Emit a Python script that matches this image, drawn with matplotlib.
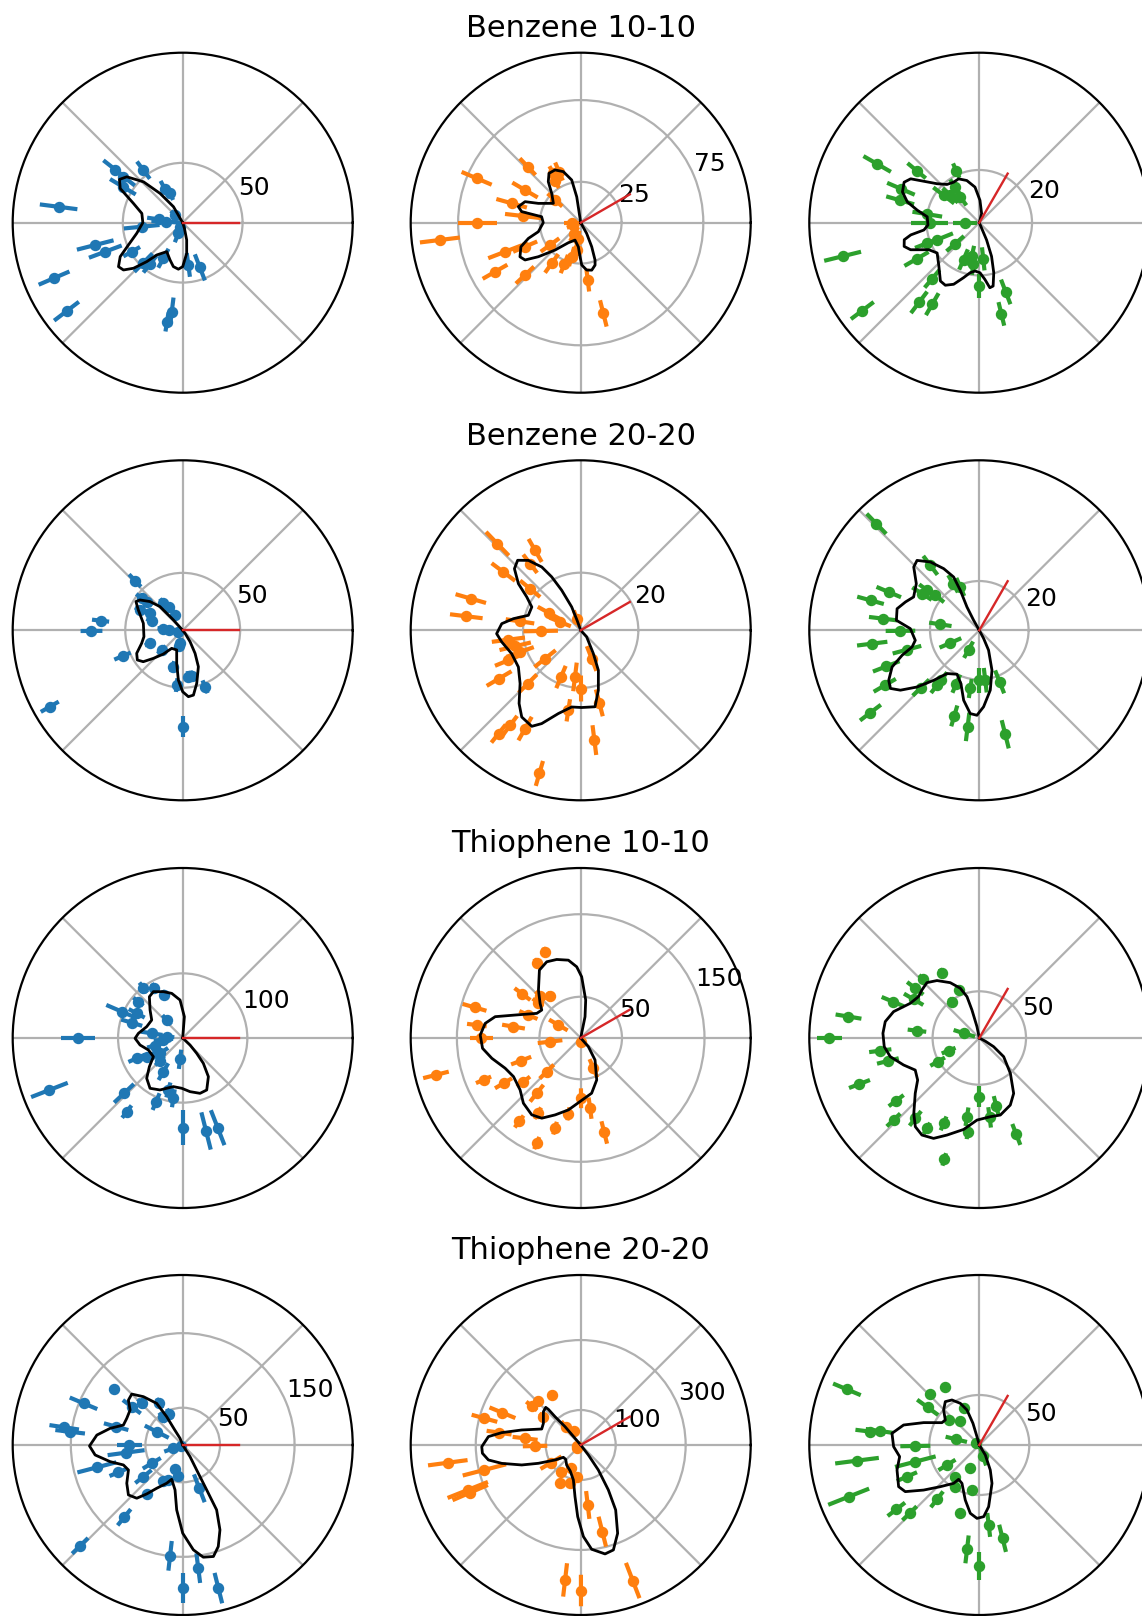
import numpy as np
import matplotlib
matplotlib.use("Agg")
import matplotlib.pyplot as plt

# row titles and colours of the three columns
titles = ["Benzene 10-10", "Benzene 20-20", "Thiophene 10-10", "Thiophene 20-20"]
colors = ["#1f77b4", "#ff7f0e", "#2ca02c"]
ref_angle = [0, 30, 60]          # red reference direction per column (deg)

# radial limits / ticks per panel [row][col]
r_max = [[142, 104, 64.5], [148, 59, 69], [263, 206, 182], [228, 486, 170]]
r_ticks = [[[50], [25, 75], [20]],
           [[50], [20], [20]],
           [[100], [50, 150], [50]],
           [[50, 150], [100, 300], [50]]]

# measured points: (angle deg, value, error)
pts_b10_a = [(172.7, 104.5, 15.8), (194.3, 75.4, 15.8), (200.5, 69, 14.6), (203.3, 117, 14),
             (217.3, 122, 13), (263, 75, 12), (261, 84, 8), (277.6, 35.6, 10), (291, 40, 11.7),
             (141.8, 71.8, 12.5), (142.2, 62.6, 12), (149, 58.3, 12.5), (126.8, 54.8, 9),
             (117.9, 31.5, 8), (113, 26.6, 6), (176.6, 14.2, 12), (172, 20, 10), (185.6, 34.4, 15),
             (209.6, 49, 8), (225.5, 46.8, 10.8), (231.7, 44, 9), (241.5, 33.8, 9),
             (248, 9.6, 8), (235, 4, 5), (135, 9, 5)]
pts_b10_b = [(187, 86.8, 12.3), (180, 63.3, 12), (156.9, 69.2, 10), (133.4, 47.2, 7),
             (149.6, 39.5, 9), (164.3, 43.9, 9.7), (173.4, 35.3, 11.3), (201, 49.6, 11),
             (209.8, 60.4, 8.7), (203.3, 37, 8), (223.2, 46.8, 7.6), (216, 23.2, 7),
             (234.5, 30.6, 7), (248.4, 27.2, 6), (255, 21.5, 6), (261.7, 16.9, 6), (277, 35.4, 7),
             (284, 57.2, 8.3), (119, 34.5, 5), (113, 34, 6), (122, 30, 5), (138.6, 21, 6),
             (200, 5, 4), (240, 8, 5), (260, 10, 5), (180, 5.5, 5)]
pts_b10_c = [(150.1, 44.7, 6), (140.3, 30.9, 4.5), (156.6, 32.4, 5.7), (164.2, 31.2, 5.5),
             (170.7, 20, 5.7), (180, 18.75, 7), (180, 5.4, 4.4), (193.8, 53.4, 7.2),
             (216.9, 55.5, 5.4), (202, 17.3, 6.5), (201.4, 21.2, 5), (210, 27.5, 5.3),
             (221, 12.1, 4.4), (229.9, 27.8, 4.4), (232.9, 37.9, 5.1), (240, 35.7, 4.8),
             (246.8, 15.2, 4.2), (257.3, 13, 4), (261.9, 16, 4), (270, 24, 4.7), (276.2, 13.8, 4.4),
             (290.9, 28.1, 5), (283.6, 35.6, 4.6), (113.9, 21.6, 3), (124, 16.3, 3.5),
             (142.5, 17, 5), (136.7, 15.1, 4), (126.6, 12.2, 4)]
pts_b20_a = [(209.9, 133.5, 9), (270, 84, 9), (133.8, 60, 7.5), (173.3, 72, 7.5), (180.4, 79.4, 9.5),
             (203.2, 57, 7.8), (142, 45.4, 6), (141.5, 40, 6), (154.5, 41.2, 5), (152.5, 32, 5),
             (162.7, 28.3, 5), (125.6, 29, 5), (121, 24, 5), (116.6, 15, 5), (180, 12, 5),
             (175, 17, 5), (201.7, 30.6, 5), (223, 25, 5), (258, 11.6, 5), (255, 14, 5),
             (254.6, 32.9, 5), (263.7, 48, 6), (277, 40.7, 5), (281, 40.7, 5), (291.6, 52.9, 6),
             (200, 4, 4)]
pts_b20_b = [(133.9, 41.7, 5.7), (119.7, 31.9, 4.6), (127.2, 29, 4), (143, 33.6, 5.1),
             (163.9, 39.7, 5.5), (173, 40, 5.7), (140.6, 22.7, 4.5), (151.3, 12.5, 4.5),
             (158, 7.7, 4), (109, 4.3, 3), (171.6, 21.3, 5), (181, 13.9, 6), (187.4, 25.3, 5.8),
             (193.7, 23.4, 5.6), (199.7, 22.3, 5), (202.5, 27.2, 5), (210.6, 32.9, 5),
             (218.5, 15.8, 4.7), (225.2, 26.1, 4.5), (233.4, 41, 4), (231.5, 45.8, 4),
             (240.5, 39.2, 4.7), (253.9, 51.7, 4.5), (247.1, 17.6, 4.2), (263, 16.3, 5),
             (270.3, 20.2, 4.5), (261.2, 28.1, 3.9), (291.2, 10.5, 4.6), (284.4, 26, 4.8),
             (277.1, 38.4, 5.2)]
pts_b20_c = [(134, 60.1, 5.7), (127, 33, 4.8), (119.4, 21.7, 4), (113.7, 19.2, 4), (147.4, 27.6, 4.7),
             (142.6, 26.7, 4), (141.5, 22.8, 4.5), (157.1, 39.9, 5.4), (164.6, 45.8, 5.6),
             (173.1, 39.3, 5.8), (180.4, 32, 6), (171.3, 16, 4.6), (187.1, 43.8, 6.2), (195, 30.4, 6),
             (201.2, 40.5, 5.8), (203.6, 12.8, 4.8), (210.2, 44.4, 5.2), (217.1, 55.4, 5.3),
             (224.5, 33.2, 4.7), (241.1, 9, 3.8), (232.5, 25.5, 4), (232.4, 28.1, 4),
             (246.7, 23.6, 4), (261.2, 23.9, 3.9), (270, 20.3, 5), (276.8, 20.4, 5),
             (291.5, 22.5, 5), (253.7, 36.2, 4.4), (263.1, 39.5, 5.8), (284, 43.5, 5.9)]
pts_t10_a = [(180, 162.4, 26.5), (201.3, 221.3, 30.4), (156.6, 102.8, 26), (163.3, 82.4, 17),
             (128, 98.8, 10), (119.4, 89.3, 8), (113.1, 72.3, 8), (140.7, 88.6, 10),
             (151.8, 80.7, 14), (131.6, 37.2, 10), (171.4, 48.5, 17), (175, 25, 12),
             (203.8, 77.8, 14), (207.4, 62.7, 15), (214, 42.3, 15), (240.1, 60, 15),
             (262.9, 33.2, 15), (223.3, 124.7, 21), (232.8, 143, 12), (247.3, 106.7, 14),
             (254.6, 83.4, 12), (261.2, 94.4, 14), (270, 138.7, 27), (284.1, 148.3, 29.7),
             (291.3, 148.9, 29), (185, 30, 15), (195, 45, 12), (225, 50, 10)]
pts_t10_b = [(112.4, 113, 6), (120.3, 105.5, 6), (143, 88.4, 12), (134.1, 70.7, 8), (126.1, 62.9, 6),
             (140.6, 67.3, 8), (163.9, 133.9, 15), (172.9, 126.8, 12), (180, 120.6, 14),
             (156.3, 69.2, 12), (170.4, 82.6, 14), (149.8, 31.3, 13), (186.8, 37.4, 15),
             (270, 5, 5), (194.3, 181, 16), (200.8, 77.2, 13), (203.3, 128.2, 10),
             (210.4, 108.4, 12), (217.3, 87.2, 10), (224.7, 57.9, 12), (231.5, 85.5, 13),
             (240.3, 104.9, 8), (233.6, 125.7, 9), (247.3, 138, 8), (254.1, 113.6, 8),
             (260.8, 93.1, 8), (270.3, 73, 12), (277.6, 85.8, 13), (284, 118, 14), (292.7, 39.8, 12)]
pts_t10_c = [(180, 160.4, 13), (170.7, 141.9, 14), (119.7, 80.6, 5), (133.7, 87.4, 6),
             (142.2, 86.8, 11), (157.2, 100.4, 13), (149.5, 81.6, 12), (113.3, 56, 5), (127, 48.7, 5),
             (173.3, 67.2, 10), (162.7, 16.8, 12), (187.3, 106.9, 12), (194.1, 100.9, 12),
             (202.4, 35.5, 8), (209.6, 51.3, 9), (201, 137.4, 12), (217, 111.4, 10),
             (223.7, 127, 10), (231.5, 110, 10), (239.9, 111.9, 7), (247.3, 99.1, 8),
             (253.9, 135.3, 7), (261.1, 85.3, 10), (262.9, 101.1, 8), (270, 62.9, 11),
             (277.4, 85.7, 11), (284, 75.1, 11), (291, 110.6, 12)]
pts_t20_a = [(141, 118.4, 6), (157.2, 144.3, 20), (143.1, 85.4, 15), (134.5, 78.3, 8), (119.2, 64, 8),
             (113.3, 45.1, 8), (125.9, 45.7, 8), (171.5, 160.7, 20), (173.3, 152, 20),
             (164.6, 92.6, 17), (152.9, 39.1, 18), (180, 71.4, 17), (187.7, 76.6, 25),
             (194.6, 119, 27), (203, 93.6, 13), (210.6, 48.2, 14), (218.8, 67.6, 14),
             (199.7, 13.3, 13), (252.5, 34.2, 5), (262, 42, 5), (241.5, 54.3, 5), (247.7, 50.7, 5),
             (233.7, 81.4, 5), (231, 124.7, 14), (224.5, 192.9, 15), (263.5, 149.6, 20),
             (270, 192, 20), (277.2, 166.5, 20), (284, 197.8, 21), (291, 62.2, 20), (200, 2, 2)]
pts_t20_b = [(120.1, 165, 8), (134.1, 176.5, 10), (141.5, 179, 20), (142.8, 134, 15),
             (157.6, 242, 40), (164.5, 285.5, 38), (171.4, 236, 36), (173.2, 160, 36),
             (181.3, 130.5, 35), (129.3, 67.7, 20), (115, 45, 10), (200, 10, 15),
             (187.6, 383.3, 57), (194.5, 284.4, 64), (201.7, 347.5, 62), (203.3, 344, 55),
             (210.8, 98.7, 35), (233.6, 94.7, 5), (247.5, 72.2, 5), (262.9, 93, 5),
             (241.2, 122.7, 5), (254.2, 111.8, 5), (276.7, 172.6, 40), (284, 255.3, 44),
             (263.4, 388.3, 48), (270.1, 416, 45), (291, 415, 54), (220, 12, 10)]
pts_t20_c = [(157.2, 143.6, 15), (120.5, 66.9, 3), (134, 70.5, 3), (143.9, 63.9, 13),
             (113.1, 39.9, 3), (140.8, 39.6, 3), (128, 30.9, 3), (173, 109.8, 15), (172, 100.7, 14),
             (166.2, 23.7, 11), (180.9, 64, 15), (187.3, 123.3, 22), (194.6, 66.1, 21),
             (203.6, 79, 11), (211.7, 38, 10), (201.6, 140.5, 22), (217.8, 105, 11),
             (224.4, 97.6, 10), (232.1, 68.9, 10), (247.5, 25.3, 1), (232.7, 40.7, 1),
             (239.8, 49, 1), (260.7, 45.6, 1), (253.9, 71.1, 1), (288.4, 11.6, 10),
             (276.7, 80.5, 12), (284, 96.2, 14), (263.3, 105.1, 14), (270, 121, 14), (150, 4, 1)]

# fitted curves: (angle deg, value)
fit_b10_a = [(110, 0), (120, 15.4), (127.7, 30.9), (133.8, 47.3), (140.6, 60.4), (145.6, 64),
             (151.3, 59.5), (158.6, 44.2), (167.2, 35), (180, 33.3), (193, 39.4), (202.3, 49),
             (208.5, 59.4), (214.4, 65), (218.6, 63.3), (222.8, 56), (227.3, 44.2), (231.2, 34.6),
             (241.1, 27.6), (251.3, 32.9), (258, 37.5), (264.7, 39), (270, 36.7), (277.4, 25.8),
             (283, 14.8), (287, 5), (292, 0)]
fit_b10_b = [(90, 0), (98.7, 16), (101.9, 26.7), (108.8, 33), (116, 35.9), (122.7, 35.9), (128.3, 32),
             (134.7, 25.2), (144.7, 20.5), (155.5, 28.5), (159.3, 36.4), (165.6, 39.4),
             (169.4, 36.7), (171.3, 24.2), (180, 22.9), (192, 26.5), (196.7, 33.4), (201.9, 39.4),
             (209.3, 42.6), (213.8, 41), (218.8, 33.2), (226.8, 23), (238.3, 14.4), (251.9, 11.2),
             (264.4, 14.8), (268.9, 20.8), (271.4, 25.9), (277.2, 29.2), (283.1, 29.8),
             (288.7, 27.4), (291, 24.5), (294.6, 16.2), (299, 7.5), (305, 0)]
fit_b10_c = [(70, 0), (76, 3.6), (88.3, 8.5), (96.9, 13.6), (106.5, 16.7), (115.3, 18.4), (122.4, 18.2),
             (130.2, 19), (137.3, 21.8), (147.4, 30.9), (151.7, 32.4), (158.2, 31.4), (163.9, 28.4),
             (168.6, 24), (173.5, 19.9), (182.6, 19.5), (187.5, 21.2), (190.1, 26.4), (192.8, 29.2),
             (197.5, 29.9), (201.5, 28), (208.2, 21.7), (215.7, 19.7), (227, 22.5), (236.3, 26.6),
             (241.5, 27), (247.4, 25.3), (254, 21.7), (259.6, 19.3), (265, 18.4), (270.8, 19),
             (275.6, 21.6), (279.2, 25), (282.3, 24.6), (286.1, 19.8), (290, 13.6), (292.9, 7.1),
             (296, 0)]
fit_b20_a = [(125, 0), (132, 12.1), (133.8, 28.6), (138.7, 37.9), (144.6, 45.6), (148.4, 47.8),
             (155.4, 42.5), (169.9, 34.8), (189.3, 34.2), (197.6, 37.5), (206.6, 44.8), (213.2, 47.2),
             (218.5, 43.9), (223.7, 35.4), (230.8, 26.7), (238.6, 18.4), (253, 17.9), (259.7, 29.2),
             (265, 43.5), (270, 53.5), (274.9, 58), (279.4, 57.2), (284.8, 47.8), (293.3, 34.5),
             (298.2, 22.8), (302.9, 11.8), (308, 3.3), (312, 0)]
fit_b20_b = [(105, 0), (110, 3.7), (111.1, 8.7), (115.4, 15.4), (118.5, 21.1), (121.6, 25.8),
             (126.8, 30.3), (132, 32.7), (137.1, 31.4), (143.2, 27), (148.3, 22), (154.5, 18.8),
             (164, 18.9), (170.2, 23.7), (175.2, 27.5), (182.3, 29.2), (188.4, 27.7), (198.7, 25.3),
             (210.5, 25.1), (221.3, 28), (229.9, 33.2), (235.8, 36.4), (243, 37.4), (247.3, 35.1),
             (255, 29.9), (263.3, 26.8), (270.7, 26.8), (280.6, 27), (286.4, 21.7), (293.8, 15.2),
             (298.5, 9.2), (312, 3.1), (320, 0)]
fit_b20_c = [(110, 0), (119.5, 4.7), (117.9, 10.7), (115.4, 17.9), (115.7, 24), (120, 28.9),
             (125.6, 34.1), (131.7, 38), (136, 37), (143.5, 31.8), (153.1, 29.9), (159, 32.1),
             (165.3, 34.5), (173.1, 33.9), (178.6, 28), (188.9, 26.3), (193.9, 28.1), (197.9, 32.9),
             (202.8, 38.4), (208.9, 42), (213.2, 43.1), (217.2, 40.2), (222.3, 34.2), (227.6, 27.5),
             (233.3, 21.9), (243.1, 20), (251, 22.9), (257.4, 29.1), (263.8, 34), (268.4, 34.5),
             (273.2, 31.1), (280.4, 24.7), (287.6, 17), (295, 8.9), (298, 3.7), (302, 0)]
fit_t10_a = [(75, 0), (85.5, 33), (94, 58.9), (103.8, 71.1), (112.6, 77.6), (122.3, 84.8),
             (128.9, 82.1), (139.4, 66.5), (149.9, 55.4), (162.5, 58.4), (174, 68.9), (180.4, 73.7),
             (189.3, 66.9), (199.3, 56.2), (212.5, 53.8), (220.7, 68), (228.2, 83.6), (237, 92.8),
             (246.4, 87.7), (259.1, 76.6), (268.9, 77.8), (277.8, 83.8), (287.4, 89.7),
             (294.8, 88.6), (303.6, 71.8), (309.2, 50.5), (312.4, 32.1), (316.3, 15.7), (322, 0)]
fit_t10_b = [(70, 0), (78.5, 26.3), (82.5, 46.4), (89.1, 74.2), (93.2, 86.4), (99, 95.5), (107, 99.5),
             (114, 101.1), (121.3, 96.3), (131.4, 77.4), (139.6, 64.6), (144.3, 58.1), (150.7, 61),
             (160.7, 84.2), (166, 106.8), (171.3, 117.1), (178.3, 121.8), (186, 119.6),
             (192.9, 110.4), (201.8, 98.6), (209.9, 93.9), (220.6, 96.7), (228.7, 105.2),
             (237.5, 110.4), (244.1, 108), (251.6, 98.2), (260.3, 88.4), (269.4, 77), (281.2, 68.2),
             (290.9, 54.4), (303.1, 31.8), (311.5, 14), (320, 0)]
fit_t10_c = [(95, 0), (101.6, 12.4), (104.7, 31), (106.6, 46.2), (110.9, 57), (117.7, 66.9),
             (126.4, 76.4), (133.4, 81.6), (140.1, 80.1), (145.7, 78.7), (153.3, 82.7), (162.9, 96),
             (170.1, 102.2), (177.2, 103.3), (185.2, 102.2), (191.8, 97.4), (199.6, 86.1),
             (206.6, 76.7), (214.3, 79.9), (220.8, 90.6), (229.1, 107.1), (234.2, 117.1),
             (239.4, 120.7), (245.5, 118.1), (251.6, 109.5), (260.3, 99.3), (268.4, 87.9),
             (278, 85.1), (285.3, 85.5), (294.8, 79.1), (301.8, 69.8), (311.3, 50.4),
             (322.5, 32.9), (328.8, 17.9), (332, 7.5), (336, 0)]
fit_t20_a = [(105, 0), (111.8, 9.6), (118, 23.7), (119.5, 43.6), (122, 65.8), (129.1, 83.5),
             (135, 96.6), (140.4, 94.5), (146.4, 84.7), (154.5, 83.1), (161.4, 83.9), (167.1, 99.9),
             (173.4, 115.9), (180.6, 125), (186.5, 118.2), (192.9, 99.9), (198.6, 83.9),
             (204.7, 80.1), (214.4, 90.9), (222.6, 98.9), (229.2, 94.3), (233.7, 81.4), (239, 67.7),
             (247.3, 55.6), (252.2, 48.3), (260.3, 61.1), (264.7, 87.4), (270, 118.3),
             (275.8, 141.3), (280.4, 153), (285.4, 155.1), (289.3, 144.3), (293.7, 124.3),
             (297.6, 98.2), (298.1, 68.3), (299.2, 38.4), (302.2, 18.4), (308, 0)]
fit_t20_b = [(125, 0), (130.4, 25), (130.5, 68.9), (132.2, 109.2), (132.2, 137.5), (132.9, 146.9),
             (138.2, 143), (149.9, 123.3), (157.7, 120.5), (165.7, 173.9), (171.1, 228.5),
             (174.8, 264.9), (181, 282.9), (184.8, 282), (189.2, 267.3), (193.1, 231.7),
             (198.7, 178), (203.4, 131.8), (210.3, 84.9), (215.4, 60.8), (223.7, 59.3), (235, 70),
             (248, 80), (258.2, 102.2), (263.7, 148.5), (267.6, 205), (271.7, 262), (276, 299.7),
             (282.6, 319.1), (287.3, 314.2), (292.7, 273.6), (298.3, 210.9), (301.6, 150.9),
             (305.2, 87.5), (307.5, 36), (312, 0)]
fit_t20_c = [(100, 0), (105.6, 8.7), (106.3, 22.6), (109.4, 37.1), (114.5, 45.8), (121.3, 52.7),
             (128.1, 55.1), (135.5, 50), (143.7, 42.2), (149.1, 43.5), (158.1, 60), (165.2, 78.3),
             (172.4, 88.1), (181.1, 85.7), (188.3, 80.5), (196.9, 86), (207.3, 90.8), (212.2, 87.5),
             (219, 71.6), (226.9, 57.1), (236.2, 46.1), (238.9, 40.1), (245.7, 42.1), (255.7, 56.8),
             (262.5, 68.9), (268.2, 73.4), (273.5, 71.8), (278.6, 62.4), (288.3, 40.4),
             (293.7, 27.3), (301, 11.7), (308, 0)]

points = [[pts_b10_a, pts_b10_b, pts_b10_c], [pts_b20_a, pts_b20_b, pts_b20_c],
          [pts_t10_a, pts_t10_b, pts_t10_c], [pts_t20_a, pts_t20_b, pts_t20_c]]
fits = [[fit_b10_a, fit_b10_b, fit_b10_c], [fit_b20_a, fit_b20_b, fit_b20_c],
        [fit_t10_a, fit_t10_b, fit_t10_c], [fit_t20_a, fit_t20_b, fit_t20_c]]

# layout in pixels
W, H = 1142, 1616
col_x = [182.7, 580.7, 979.3]
row_y = [222.7, 630.3, 1038, 1445]
R = 170

fig = plt.figure(figsize=(W / 100, H / 100), dpi=100)

for i, title in enumerate(titles):
    for j in range(3):
        cx, cy = col_x[j], row_y[i]
        ax = fig.add_axes([(cx - R) / W, (H - cy - R) / H, 2 * R / W, 2 * R / H],
                          projection="polar")

        p = np.array(points[i][j], dtype=float)
        th, r, e = np.radians(p[:, 0]), p[:, 1], p[:, 2]
        lower = np.minimum(e, r)
        ax.errorbar(th, r, yerr=[lower, e], fmt="o", color=colors[j], ms=7.2,
                    elinewidth=3.0, capsize=0, zorder=3)

        f = np.array(fits[i][j], dtype=float)
        ax.plot(np.radians(f[:, 0]), f[:, 1], color="black", lw=2.0, zorder=4,
                solid_joinstyle="round")

        a = np.radians(ref_angle[j])
        ax.plot([a, a], [0, r_max[i][j] / 3], color="#d62728", lw=1.7, zorder=5)

        ax.set_thetagrids(range(0, 360, 45), labels=[])
        ax.set_rticks(r_ticks[i][j])
        ax.set_rlim(0, r_max[i][j])
        ax.set_rlabel_position(22.5)
        ax.tick_params(axis="y", labelsize=18)
        ax.grid(True, color="#b0b0b0", lw=1.6)
        ax.spines["polar"].set_linewidth(1.6)

    fig.text(col_x[1] / W, 1 - (row_y[i] - R - 15.7) / H, title,
             ha="center", va="baseline", fontsize=22)

fig.savefig("out.png", dpi=100)
